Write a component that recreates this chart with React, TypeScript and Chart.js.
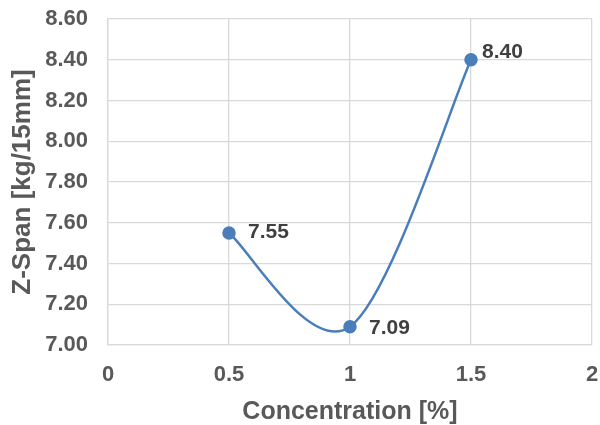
import React, { useEffect, useRef } from "react";
import { Chart, registerables } from "chart.js";

Chart.register(...registerables);

const concentration = [0.5, 1, 1.5];
const zSpan = [7.55, 7.09, 8.4];
const xTicks = [0, 0.5, 1, 1.5, 2];
const yMin = 7.0;
const yMax = 8.6;
const yStep = 0.2;
const xTitle = "Concentration [%]";
const yTitle = "Z-Span [kg/15mm]";

const FONT = "'Liberation Sans', Arial, sans-serif";
const LABEL_OFFSETS = [
  [19, -1],
  [19, 2],
  [11, -8],
];

// Excel-style smoothing: Catmull-Rom control points at 1/6 of the neighbour chord
const excelSmoothPlugin = {
  id: "excelSmooth",
  beforeDatasetsDraw(chart: any) {
    const meta = chart.getDatasetMeta(0);
    const line = meta.dataset;
    if (line && line.updateControlPoints) line.updateControlPoints(chart.chartArea, "x");
    const pts = meta.data;
    const n = pts.length;
    for (let i = 0; i < n; i++) {
      const p = pts[i];
      const prev = pts[Math.max(0, i - 1)];
      const next = pts[Math.min(n - 1, i + 1)];
      const dx = (next.x - prev.x) / 6;
      const dy = (next.y - prev.y) / 6;
      p.cp1x = p.x - dx;
      p.cp1y = p.y - dy;
      p.cp2x = p.x + dx;
      p.cp2y = p.y + dy;
    }
  },
};

const labelPlugin = {
  id: "pointLabels",
  afterDatasetsDraw(chart: any) {
    const ctx = chart.ctx;
    const meta = chart.getDatasetMeta(0);
    ctx.save();
    ctx.font = `bold 21px ${FONT}`;
    ctx.fillStyle = "#404040";
    ctx.textAlign = "left";
    ctx.textBaseline = "middle";
    meta.data.forEach((pt: any, i: number) => {
      const [dx, dy] = LABEL_OFFSETS[i] || [12, 0];
      ctx.fillText(zSpan[i].toFixed(2), pt.x + dx, pt.y + dy);
    });
    ctx.restore();
  },
};

export default function App() {
  const ref = useRef<HTMLCanvasElement>(null);
  useEffect(() => {
    if (!ref.current) return;
    const chart = new Chart(ref.current, {
      type: "line",
      data: {
        datasets: [
          {
            data: concentration.map((x, i) => ({ x, y: zSpan[i] })),
            borderColor: "#4a7ebb",
            backgroundColor: "#4a7ebb",
            borderWidth: 2.5,
            pointRadius: 5.5,
            pointHoverRadius: 5.5,
            tension: 0.4,
            fill: false,
          },
        ],
      },
      options: {
        animation: false,
        responsive: false,
        maintainAspectRatio: false,
        layout: { padding: { top: 19, right: 6, left: 0, bottom: 0 } },
        plugins: { legend: { display: false }, tooltip: { enabled: false } },
        scales: {
          x: {
            type: "linear",
            min: 0,
            max: 2,
            afterBuildTicks: (scale: any) => {
              scale.ticks = xTicks.map((v) => ({ value: v }));
            },
            afterFit: (scale: any) => {
              scale.height = 80;
              scale.paddingLeft = 0;
              scale.paddingRight = 0;
              if (scale._margins) {
                scale._margins.left = 0;
                scale._margins.right = 0;
              }
            },
            ticks: {
              color: "#595959",
              font: { family: FONT, size: 22, weight: "bold" },
              padding: 17,
              callback: (v: any) => String(v),
              maxRotation: 0,
            },
            grid: { color: "#d9d9d9", lineWidth: 1.3, drawTicks: false },
            border: { color: "#d9d9d9", width: 1.3 },
            title: {
              display: true,
              text: xTitle,
              color: "#595959",
              font: { family: FONT, size: 25, weight: "bold", lineHeight: 1 },
              padding: { top: 0, bottom: 0 },
            },
          },
          y: {
            type: "linear",
            min: yMin,
            max: yMax,
            ticks: {
              stepSize: yStep,
              color: "#595959",
              font: { family: FONT, size: 22, weight: "bold" },
              padding: 20,
              callback: (v: any) => Number(v).toFixed(2),
            },
            afterFit: (scale: any) => {
              scale.width = 108;
              scale.paddingTop = 0;
              scale.paddingBottom = 0;
              if (scale._margins) {
                scale._margins.top = 0;
                scale._margins.bottom = 0;
              }
            },
            grid: { color: "#d9d9d9", lineWidth: 1.3, drawTicks: false },
            border: { color: "#d9d9d9", width: 1.3 },
            title: {
              display: true,
              text: yTitle,
              color: "#595959",
              font: { family: FONT, size: 26, weight: "bold", lineHeight: 1.2 },
              padding: { top: 7, bottom: 0 },
            },
          },
        },
      },
      plugins: [excelSmoothPlugin, labelPlugin],
    } as any);
    return () => chart.destroy();
  }, []);
  return (
    <div style={{ position: "fixed", left: 0, top: 0, width: 600, height: 425, background: "#fff" }}>
      <canvas ref={ref} width={600} height={425} style={{ width: 600, height: 425 }} />
    </div>
  );
}
